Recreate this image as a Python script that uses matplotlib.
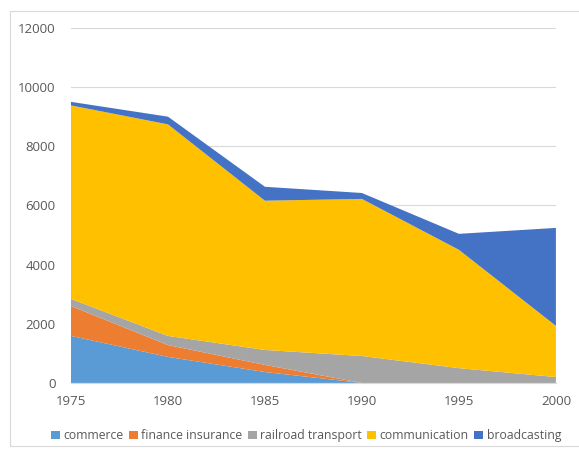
import matplotlib.pyplot as plt
from matplotlib.patches import Rectangle

# Data
years = [1975, 1980, 1985, 1990, 1995, 2000]
commerce = [1590, 880, 370, 0, 0, 0]
finance_insurance = [1010, 400, 240, 0, 0, 0]
railroad_transport = [240, 310, 505, 910, 500, 200]
communication = [6540, 7150, 5045, 5310, 4000, 1730]
broadcasting = [120, 260, 470, 200, 540, 3310]

labels = ['commerce', 'finance insurance', 'railroad transport',
          'communication', 'broadcasting']
colors = ['#5B9BD5', '#ED7D31', '#A5A5A5', '#FFC000', '#4472C4']

plt.rcParams['font.family'] = ['Open Sans', 'DejaVu Sans']

fig = plt.figure(figsize=(5.79, 4.5), dpi=100)
ax = fig.add_axes([0.1226, 0.149, 0.8375, 0.789])

ax.stackplot(years, commerce, finance_insurance, railroad_transport,
             communication, broadcasting, labels=labels, colors=colors,
             linewidth=0)

ax.set_xlim(1975, 2000)
ax.set_ylim(0, 12000)
ax.set_xticks(years)
ax.set_yticks(range(0, 12001, 2000))
ax.grid(axis='y', color='#D9D9D9', linewidth=0.8)
ax.set_axisbelow(True)
for s in ['top', 'right', 'left']:
    ax.spines[s].set_visible(False)
ax.spines['bottom'].set_color('#D9D9D9')
ax.tick_params(axis='both', length=0, labelsize=9.5, colors='#595959')
ax.tick_params(axis='y', pad=11)
ax.tick_params(axis='x', pad=9)

ax.legend(loc='upper center', bbox_to_anchor=(0.485, -0.1), ncol=5,
          frameon=False, fontsize=8.8, handlelength=0.7, handleheight=0.7,
          handletextpad=0.3, columnspacing=0.45, labelcolor='#595959')

# light chart-area border
fig.patches.append(Rectangle((10 / 579, 0.01), 0.99, 0.965, transform=fig.transFigure,
                             fill=False, edgecolor='#D9D9D9', linewidth=0.8))

fig.savefig('out.png', dpi=100)
